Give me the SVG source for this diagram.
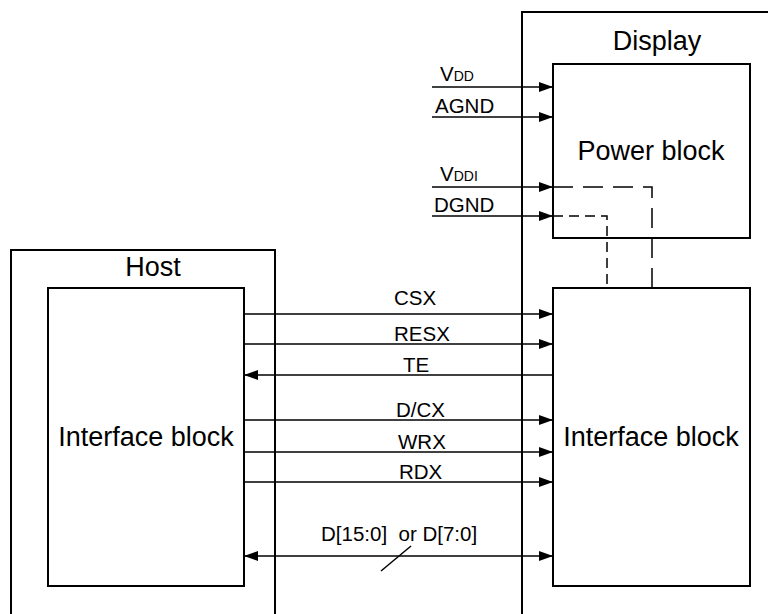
<svg xmlns="http://www.w3.org/2000/svg" width="768" height="614" viewBox="0 0 768 614">
<style>
.box{fill:none;stroke:#000;stroke-width:2}
.ln{fill:none;stroke:#000;stroke-width:1.5}
.dl{fill:none;stroke:#000;stroke-width:1.5;stroke-dasharray:20,10}
.ds{fill:none;stroke:#000;stroke-width:1.5;stroke-dasharray:10,6}
.big{font-family:"Liberation Sans",Arial,sans-serif;font-size:27px;fill:#000}
.lb{font-family:"Liberation Sans",Arial,sans-serif;font-size:20.5px;fill:#000}
.sm{font-size:14px}
</style>
<defs>
<marker id="ah" viewBox="0 0 14 10" refX="14" refY="5" markerWidth="14" markerHeight="10" markerUnits="userSpaceOnUse" orient="auto-start-reverse">
<path d="M0,0 L14,5 L0,10 Z" fill="#000"/>
</marker>
</defs>
<rect width="768" height="614" fill="#fff"/>
<g id="host">
<rect class="box" x="11" y="250" width="264" height="400"/>
<text class="big" x="153" y="276" text-anchor="middle">Host</text>
</g>
<g id="host-interface">
<rect class="box" x="48" y="288" width="196" height="298"/>
<text class="big" x="146" y="446" text-anchor="middle">Interface block</text>
</g>
<g id="display">
<rect class="box" x="522" y="12" width="300" height="640"/>
<text class="big" x="657" y="50" text-anchor="middle">Display</text>
</g>
<g id="power-block">
<rect class="box" x="553" y="64" width="197" height="174"/>
<text class="big" x="651" y="160" text-anchor="middle">Power block</text>
</g>
<g id="display-interface">
<rect class="box" x="553" y="288" width="197" height="298"/>
<text class="big" x="651" y="446" text-anchor="middle">Interface block</text>
</g>
<g id="connectors">
<line class="ln" x1="432" y1="87" x2="553" y2="87" marker-end="url(#ah)"/>
<line class="ln" x1="432" y1="117" x2="553" y2="117" marker-end="url(#ah)"/>
<line class="ln" x1="432" y1="187" x2="553" y2="187" marker-end="url(#ah)"/>
<line class="ln" x1="432" y1="216" x2="553" y2="216" marker-end="url(#ah)"/>
<path class="dl" d="M553,187 H652 V288"/>
<path class="ds" d="M553,216 H607 V288"/>
<line class="ln" x1="244" y1="314" x2="553" y2="314" marker-end="url(#ah)"/>
<line class="ln" x1="244" y1="344" x2="553" y2="344" marker-end="url(#ah)"/>
<line class="ln" x1="553" y1="375" x2="244" y2="375" marker-end="url(#ah)"/>
<line class="ln" x1="244" y1="420" x2="553" y2="420" marker-end="url(#ah)"/>
<line class="ln" x1="244" y1="452" x2="553" y2="452" marker-end="url(#ah)"/>
<line class="ln" x1="244" y1="482" x2="553" y2="482" marker-end="url(#ah)"/>
<line class="ln" x1="244" y1="556" x2="553" y2="556" marker-start="url(#ah)" marker-end="url(#ah)"/>
<line class="ln" x1="381" y1="571" x2="411" y2="546"/>
<text class="lb" x="440" y="81">V<tspan class="sm">DD</tspan></text>
<text class="lb" x="435" y="113">AGND</text>
<text class="lb" x="440" y="181">V<tspan class="sm">DDI</tspan></text>
<text class="lb" x="434" y="212">DGND</text>
<text class="lb" x="394" y="305">CSX</text>
<text class="lb" x="394" y="341">RESX</text>
<text class="lb" x="403" y="372">TE</text>
<text class="lb" x="396" y="417">D/CX</text>
<text class="lb" x="398" y="449">WRX</text>
<text class="lb" x="399" y="479">RDX</text>
<text class="lb" x="321" y="541" xml:space="preserve">D[15:0]  or D[7:0]</text>
</g>
</svg>
